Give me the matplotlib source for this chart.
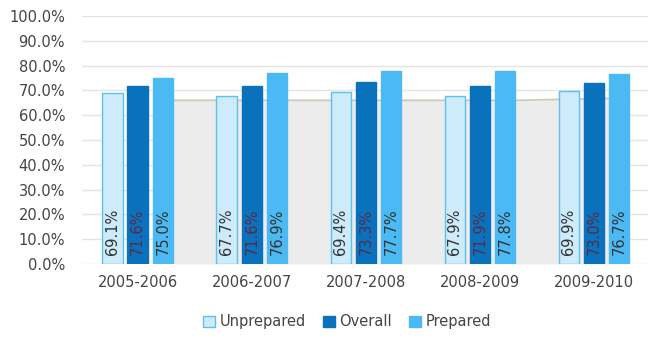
import matplotlib.pyplot as plt
import numpy as np

years = ["2005-2006", "2006-2007", "2007-2008", "2008-2009", "2009-2010"]
unprepared = [69.1, 67.7, 69.4, 67.9, 69.9]
overall = [71.6, 71.6, 73.3, 71.9, 73.0]
prepared = [75.0, 76.9, 77.7, 77.8, 76.7]
# faint grey background area behind the bars
backdrop = [66.0, 66.0, 66.0, 66.0, 67.0]

fig = plt.figure(figsize=(6.49, 3.37), dpi=100)
ax = fig.add_axes([0.126, 0.2166, 0.872, 0.7359])

x = np.arange(len(years))
w = 0.18
step = 0.22

# backdrop area
ax.fill_between(x + step + w / 2, 0, backdrop, color="#ececec", zorder=1, lw=0)
ax.plot(x + step + w / 2, backdrop, color="#cbc8b8", lw=1.2, zorder=1.5)

series = [
    ("Unprepared", unprepared, "#cdebfb", "#5cc0f0", "#333333"),
    ("Overall", overall, "#0a72bd", "#0a72bd", "#5c2a44"),
    ("Prepared", prepared, "#4bb9f3", "#4bb9f3", "#333333"),
]
for i, (name, vals, fc, ec, tc) in enumerate(series):
    pos = x + (i - 1) * step
    ax.bar(pos, vals, width=w, color=fc, edgecolor=ec, linewidth=1.0,
           label=name, zorder=3)
    for p, v in zip(pos, vals):
        ax.text(p, 3.5, f"{v:.1f}%", rotation=90, ha="center", va="bottom",
                fontsize=10.5, color=tc, zorder=4)

ax.set_ylim(0, 100)
ax.set_xlim(-0.49, 4.47)
ax.set_yticks(np.arange(0, 101, 10))
ax.set_yticklabels([f"{t:.1f}%" for t in np.arange(0, 101, 10)])
ax.set_xticks(x)
ax.set_xticklabels(years)
ax.tick_params(length=0, labelsize=10.5, colors="#444444")
ax.tick_params(axis="y", pad=12)
ax.tick_params(axis="x", pad=8)
ax.grid(axis="y", color="#e4e4e4", lw=1, zorder=0)
ax.set_axisbelow(True)
for s in ax.spines.values():
    s.set_visible(False)

fig.legend(loc="center", bbox_to_anchor=(0.535, 0.045), ncol=3, frameon=False,
           fontsize=10.5, handlelength=0.8, handleheight=0.8, handletextpad=0.3,
           columnspacing=1.2, labelcolor="#444444")

fig.savefig("out.png", dpi=100)
